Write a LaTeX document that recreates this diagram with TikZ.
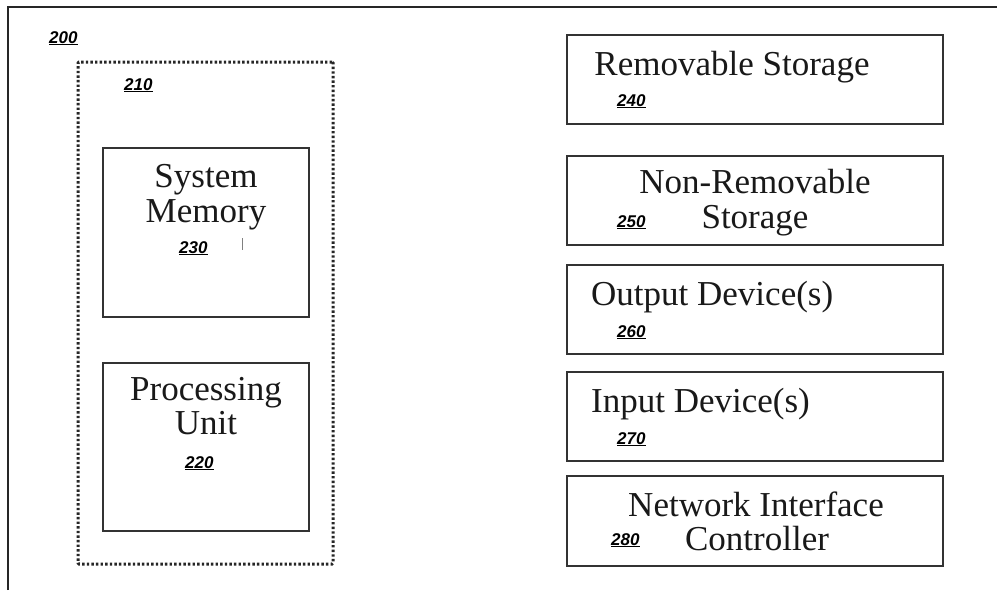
\documentclass[tikz,border=0pt]{standalone}
\usepackage{fontspec}
\setmainfont{Liberation Serif}
\newfontfamily\labfont{Liberation Sans}
\begin{document}
\begin{tikzpicture}[x=1pt,y=-1pt,
  box/.style={draw=black!80, line width=1.6pt, rectangle, inner sep=0pt, outer sep=0pt, anchor=north west},
  txt/.style={font=\fontsize{35}{35}\selectfont, text=black!90, inner sep=0pt, anchor=base},
  txtl/.style={txt, anchor=base west},
  lab/.style={font=\labfont\bfseries\itshape\fontsize{17}{17}\selectfont, inner sep=0pt, anchor=base west},
  dotbox/.style={draw=black!85, line width=3pt, dash pattern=on 2.4pt off 2.2pt, rectangle, inner sep=0pt, outer sep=0pt, anchor=north west, rounded corners=1pt}
]
\useasboundingbox (0,0) rectangle (997,590);
\fill[white] (0,0) rectangle (997,590);
% outer frame (open right and bottom)
\coordinate (ob) at (8,590);
\coordinate (oc) at (8,7);
\coordinate (or) at (997,7);
\draw[line width=2.7pt, black!85] (ob) -- (oc) -- (or);
\node[lab] (l200) at (49,43) {\underline{200}};
% group 210
\node[dotbox, minimum width=255pt, minimum height=502pt] (g210) at (78,62) {};
\node[lab] (l210) at (124,90) {\underline{210}};
% system memory
\node[box, minimum width=206pt, minimum height=169pt] (b230) at (103,148) {};
\node[txt] (t230a) at (206,187) {System};
\node[txt] (t230b) at (206,222) {Memory};
\node[lab] (l230) at (179,253) {\underline{230}};
\coordinate (tk1) at (242,238);
\coordinate (tk2) at (242,250);
\draw[black!50, line width=0.8pt] (tk1) -- (tk2);
% processing unit
\node[box, minimum width=206pt, minimum height=168pt] (b220) at (103,363) {};
\node[txt] (t220a) at (206,400) {Processing};
\node[txt] (t220b) at (206,434) {Unit};
\node[lab] (l220) at (185,468) {\underline{220}};
% right column
\node[box, minimum width=376pt, minimum height=89pt] (b240) at (567,35) {};
\node[txt] (t240) at (732,75) {Removable Storage};
\node[lab] (l240) at (617,106) {\underline{240}};

\node[box, minimum width=376pt, minimum height=89pt] (b250) at (567,156) {};
\node[txt] (t250a) at (755,193) {Non-Removable};
\node[txt] (t250b) at (755,228) {Storage};
\node[lab] (l250) at (617,227) {\underline{250}};

\node[box, minimum width=376pt, minimum height=89pt] (b260) at (567,265) {};
\node[txtl] (t260) at (591,305) {Output Device(s)};
\node[lab] (l260) at (617,337) {\underline{260}};

\node[box, minimum width=376pt, minimum height=89pt] (b270) at (567,372) {};
\node[txtl] (t270) at (591,412) {Input Device(s)};
\node[lab] (l270) at (617,444) {\underline{270}};

\node[box, minimum width=376pt, minimum height=90pt] (b280) at (567,476) {};
\node[txt] (t280a) at (756,516) {Network Interface};
\node[txt] (t280b) at (757,550) {Controller};
\node[lab] (l280) at (611,545) {\underline{280}};
\end{tikzpicture}
\end{document}
